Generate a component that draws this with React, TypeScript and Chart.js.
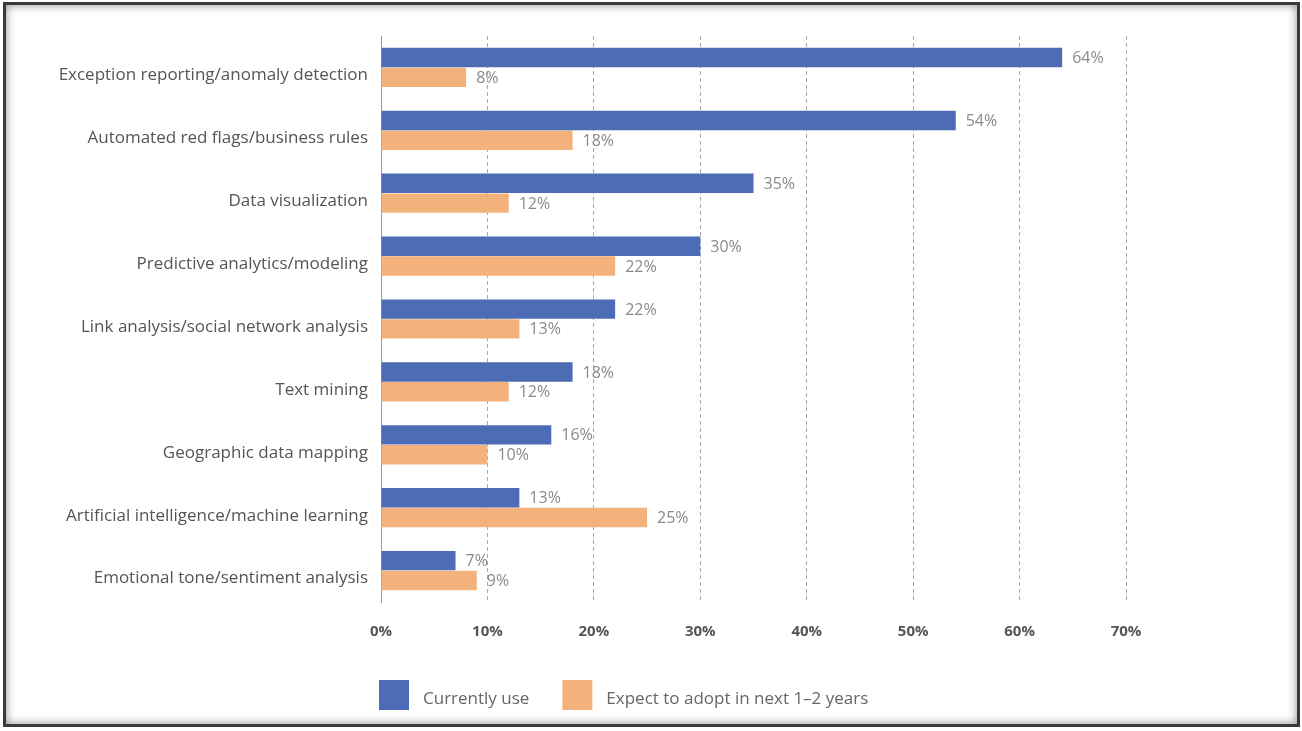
import React, { useEffect, useRef } from "react";
import { Chart, registerables } from "chart.js";

Chart.register(...registerables);

const categories = [
  "Exception reporting/anomaly detection",
  "Automated red flags/business rules",
  "Data visualization",
  "Predictive analytics/modeling",
  "Link analysis/social network analysis",
  "Text mining",
  "Geographic data mapping",
  "Artificial intelligence/machine learning",
  "Emotional tone/sentiment analysis",
];
const currentlyUse = [64, 54, 35, 30, 22, 18, 16, 13, 7];
const expectToAdopt = [8, 18, 12, 22, 13, 12, 10, 25, 9];
const seriesLabels = ["Currently use", "Expect to adopt in next 1\u20132 years"];
const xTicks = [0, 10, 20, 30, 40, 50, 60, 70];

const BLUE = "#4C6CB5";
const ORANGE = "#F3B27B";
const FONT = "'Open Sans', 'Noto Sans', sans-serif";

const valueLabelPlugin = {
  id: "valueLabels",
  afterDatasetsDraw(chart: any) {
    const ctx = chart.ctx;
    ctx.save();
    ctx.font = `16px ${FONT}`;
    ctx.fillStyle = "#8a8a8a";
    ctx.textAlign = "left";
    ctx.textBaseline = "middle";
    chart.data.datasets.forEach((ds: any, di: number) => {
      const meta = chart.getDatasetMeta(di);
      meta.data.forEach((el: any, i: number) => {
        ctx.fillText(`${ds.data[i]}%`, el.x + 10, el.y + 1);
      });
    });
    ctx.restore();
  },
};

const customLegendPlugin = {
  id: "customLegend",
  afterDraw(chart: any) {
    const ctx = chart.ctx;
    const area = chart.chartArea;
    ctx.save();
    ctx.font = `17px ${FONT}`;
    ctx.textBaseline = "middle";
    ctx.textAlign = "left";
    let x = area.left - 2;
    const y = 680;
    chart.data.datasets.forEach((ds: any) => {
      ctx.fillStyle = ds.backgroundColor;
      ctx.fillRect(x, y, 30, 30);
      ctx.fillStyle = "#666";
      ctx.fillText(ds.label, x + 44, y + 19);
      x += 44 + ctx.measureText(ds.label).width + 33;
    });
    ctx.restore();
  },
};

export default function App() {
  const canvasRef = useRef<HTMLCanvasElement | null>(null);

  useEffect(() => {
    if (!canvasRef.current) return;
    const chart = new Chart(canvasRef.current, {
      type: "bar",
      data: {
        labels: categories,
        datasets: [
          {
            label: seriesLabels[0],
            data: currentlyUse,
            backgroundColor: BLUE,
            categoryPercentage: 0.63,
            barPercentage: 0.98,
          },
          {
            label: seriesLabels[1],
            data: expectToAdopt,
            backgroundColor: ORANGE,
            categoryPercentage: 0.63,
            barPercentage: 0.98,
          },
        ],
      },
      options: {
        indexAxis: "y",
        animation: false,
        responsive: false,
        maintainAspectRatio: false,
        layout: { padding: { left: 0, right: 176, top: 36, bottom: 79 } },
        plugins: {
          legend: { display: false },
          tooltip: { enabled: false },
        },
        scales: {
          x: {
            min: 0,
            max: 70,
            afterBuildTicks: (scale: any) => {
              scale.ticks = xTicks.map((v) => ({ value: v }));
            },
            afterFit: (scale: any) => {
              scale.height = 50;
            },
            grid: {
              drawTicks: false,
              color: (c: any) => (c.tick && c.tick.value === 0 ? "rgba(0,0,0,0)" : "#a8a8a8"),
              lineWidth: 1,
            },
            border: { display: false, dash: [4, 3] },
            ticks: {
              padding: 21,
              color: "#555",
              font: { family: FONT, size: 15, weight: "bold" },
              callback: (v: any) => `${v}%`,
            },
          },
          y: {
            afterFit: (scale: any) => {
              scale.width = 381;
            },
            grid: { display: false, drawTicks: false },
            border: { display: true, color: "#9a9a9a", width: 1 },
            ticks: {
              padding: 13,
              labelOffset: 8,
              color: "#555",
              font: { family: FONT, size: 17 },
            },
          },
        },
      },
      plugins: [valueLabelPlugin, customLegendPlugin],
    } as any);
    return () => chart.destroy();
  }, []);

  return (
    <div
      style={{
        position: "fixed",
        left: 0,
        top: 0,
        width: 1302,
        height: 731,
        background: "#fff",
        overflow: "hidden",
      }}
    >
      <canvas
        ref={canvasRef}
        width={1302}
        height={731}
        style={{ position: "absolute", left: 0, top: 0, width: 1302, height: 731 }}
      />
      <div
        style={{
          position: "absolute",
          left: 3,
          top: 2,
          width: 1297,
          height: 725,
          boxSizing: "border-box",
          border: "3px solid #3a3a3a",
          boxShadow: "inset 0 0 10px rgba(0,0,0,0.45)",
          pointerEvents: "none",
        }}
      />
    </div>
  );
}
